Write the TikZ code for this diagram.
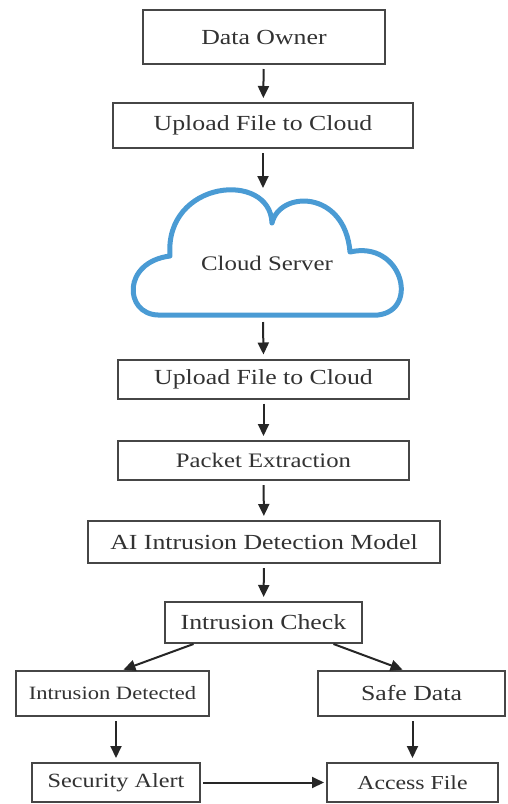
\documentclass[tikz,border=0pt]{standalone}
\usepackage{fontspec}
\setmainfont{Liberation Serif}[FakeStretch=1.2]
\usepackage{xcolor}
\usetikzlibrary{arrows.meta,positioning,calc}
\definecolor{cloudblue}{RGB}{74,155,212}
\definecolor{boxgray}{RGB}{70,70,70}
\definecolor{txtgray}{RGB}{50,50,50}
\newcommand{\fsz}[1]{\fontsize{#1}{25}\selectfont}

\begin{document}
\begin{tikzpicture}[
    x=1pt, y=-1pt,
    font=\fsz{21.5}, text=txtgray,
    box/.style={draw=boxgray, line width=2pt, fill=white, minimum width=#1, inner sep=0pt, align=center},
    flow/.style={-{Triangle[length=12pt,width=11pt]}, draw=black!85, line width=2pt, shorten >=4pt, shorten <=4pt}
]

% Khung ảnh
\path[use as bounding box] (0,0) rectangle (508,804);

% ==== CỘT ====
\def\xM{264}
\def\xL{112.5}
\def\xR{411.5}

% ===== TOP =====
\node[box=242pt, minimum height=54pt] (owner) at (\xM,37) {Data Owner};
\node[box=300pt, minimum height=45pt] (up1) at (263,125.5) {Upload File to Cloud};

% ===== CLOUD =====
\draw[cloudblue, line width=5pt, line join=round, fill=white]
  (158,315) .. controls (124,314) and (122,262) .. (170,256)
  .. controls (164,180) and (270,170) .. (272,223)
  .. controls (280,190) and (345,190) .. (350,252)
  .. controls (402,240) and (420,310) .. (378,315)
  -- cycle;
\node[font=\fsz{20.7}] (cloud) at (267,263) {Cloud Server};
\coordinate (cloudtop) at (263,192);
\coordinate (cloudbot) at (263,318);

% ===== MIDDLE =====
\node[box=291pt, minimum height=39pt] (up2) at (263.5,379) {Upload File to Cloud};
\node[box=291pt, minimum height=39pt, font=\fsz{20.6}] (pkt) at (263.5,460.5) {Packet Extraction};
\node[box=352pt, minimum height=42pt] (ai)  at (\xM,542) {AI Intrusion Detection Model};
\node[box=197pt, minimum height=41pt] (chk) at (263.5,622.5) {Intrusion Check};

% ===== BRANCHES =====
\node[box=193pt, minimum height=45pt, font=\fsz{18.8}] (det)  at (\xL,693.5) {Intrusion Detected};
\node[box=187pt, minimum height=45pt] (safe) at (\xR,693.5) {Safe Data};
\node[box=168pt, minimum height=39pt, font=\fsz{20.2}] (alert)  at (116,782.5) {Security Alert};
\node[box=171pt, minimum height=39pt, font=\fsz{19.8}] (access) at (412.5,782.5) {Access File};

% ===== ARROWS =====
\draw[flow] (owner) -- (up1);
\draw[flow] (up1.south) -- (cloudtop);
\draw[flow] (cloudbot) -- (up2.north);
\draw[flow] (up2) -- (pkt);
\draw[flow] (pkt) -- (ai);
\draw[flow] (ai) -- (chk);

\draw[flow, shorten <=0pt, shorten >=1pt] ([xshift=-70pt]chk.south) -- ([xshift=10pt]det.north);
\draw[flow, shorten <=0pt, shorten >=1pt] ([xshift=70pt]chk.south) -- ([xshift=-8pt]safe.north);

\draw[flow] (det.south -| alert.north) -- (alert.north);
\draw[flow] (safe.south -| access.north) -- (access.north);
\draw[flow, shorten <=2pt, shorten >=2pt] (alert) -- (access);

\end{tikzpicture}
\end{document}
